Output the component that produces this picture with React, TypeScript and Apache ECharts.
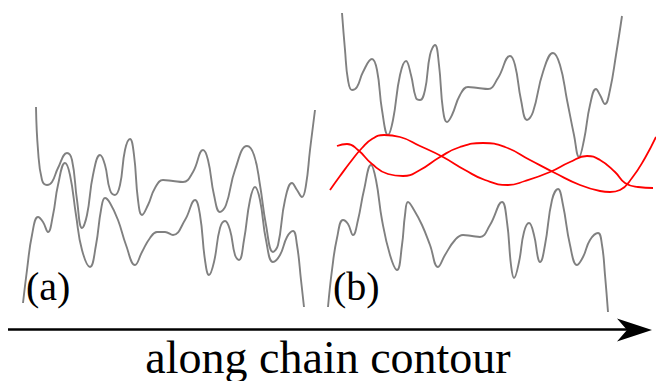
import React, { useEffect, useRef } from "react";
import * as echarts from "echarts";

// Panel (a), upper gray chain: [x, y] in picture units
const chainA1: number[][] = [
  [36, 107], [38, 150], [42, 180], [47, 185], [52, 182], [58, 168], [67, 153], [72, 160], [77, 200], [82, 228],
  [87, 215], [93, 175], [100, 155], [105, 165], [110, 190], [115, 195], [120, 185], [125, 150], [130, 139],
  [134, 155], [138, 200], [142, 215], [148, 205], [155, 188], [163, 180], [173, 181], [183, 182], [193, 172],
  [203, 150], [208, 160], [214, 195], [220, 212], [226, 205], [235, 170], [247, 146], [254, 155], [260, 185],
  [266, 225], [273, 252], [278, 245], [285, 200], [292, 183], [297, 190], [302, 197], [306, 185], [310, 150], [315, 110],
];
// Panel (a), lower gray chain
const chainA2: number[][] = [
  [23, 303], [27, 270], [32, 235], [38, 217], [43, 222], [48, 232], [53, 215], [58, 185], [65, 163], [70, 175],
  [76, 215], [82, 250], [90, 267], [96, 245], [101, 210], [105, 198], [110, 203], [118, 220], [126, 245], [135, 265],
  [142, 252], [150, 238], [157, 232], [165, 232], [173, 235], [185, 220], [195, 200], [200, 215], [205, 260],
  [209, 275], [214, 262], [220, 228], [225, 221], [230, 230], [235, 255], [239, 260], [244, 240], [250, 200],
  [255, 187], [260, 200], [266, 240], [273, 262], [280, 255], [287, 237], [293, 231], [297, 245], [301, 280], [304, 307],
];
// Panel (b), upper gray chain
const chainB1: number[][] = [
  [342, 13], [345, 50], [348, 80], [352, 90], [357, 87], [363, 72], [372, 59], [377, 70], [382, 110], [388, 135],
  [393, 120], [400, 75], [406, 61], [411, 75], [416, 98], [420, 100], [425, 90], [430, 55], [435, 45], [439, 65],
  [443, 110], [447, 122], [452, 115], [460, 95], [468, 87], [478, 88], [488, 89], [498, 78], [510, 56], [515, 65],
  [521, 100], [527, 120], [533, 112], [543, 72], [553, 53], [560, 65], [567, 100], [574, 135], [579, 157],
  [584, 140], [590, 105], [596, 89], [600, 95], [605, 104], [610, 90], [616, 55], [622, 16],
];
// Panel (b), lower gray chain
const chainB2: number[][] = [
  [328, 307], [332, 270], [337, 238], [343, 220], [348, 224], [353, 235], [358, 220], [364, 190], [371, 165],
  [376, 180], [382, 220], [390, 255], [397, 270], [402, 245], [405, 215], [408, 202], [414, 210], [422, 225],
  [430, 245], [438, 267], [445, 255], [455, 240], [463, 235], [472, 236], [480, 237], [490, 225], [502, 202],
  [507, 222], [511, 265], [514, 278], [519, 262], [524, 232], [529, 223], [534, 235], [538, 258], [540, 262],
  [545, 245], [552, 200], [558, 189], [563, 205], [570, 245], [577, 265], [583, 257], [590, 240], [598, 233],
  [602, 245], [605, 275], [608, 312],
];
// Panel (b), red smooth curves
const redA: number[][] = [
  [337, 146], [347, 144], [358, 150], [372, 164], [388, 174], [403, 176], [420, 170], [440, 157], [460, 147],
  [483, 143], [505, 147], [530, 160], [555, 173], [580, 185], [600, 191], [610, 192], [620, 190], [632, 178],
  [645, 158], [656, 137],
];
const redB: number[][] = [
  [330, 190], [340, 176], [352, 160], [362, 148], [372, 139], [384, 135], [400, 137], [420, 146], [443, 157],
  [465, 170], [485, 180], [508, 185], [525, 181], [550, 172], [570, 162], [587, 156], [600, 160], [615, 172],
  [625, 183], [638, 187], [653, 188],
];
// Arrow shaft along the bottom
const arrowShaft: number[][] = [[8, 329.5], [628, 329.5]];

const panelLabels = ["(a)", "(b)"];
const axisLabel = "along chain contour";

export default function App() {
  const ref = useRef<HTMLDivElement>(null);
  useEffect(() => {
    if (!ref.current) return;
    const chart = echarts.init(ref.current, undefined, { renderer: "svg" });
    const gray = (data: number[][]) => ({
      type: "line",
      data,
      smooth: 0.45,
      symbol: "none",
      lineStyle: { color: "#808080", width: 1.9 },
      z: 2,
    });
    const red = (data: number[][]) => ({
      type: "line",
      data,
      smooth: 0.5,
      symbol: "none",
      lineStyle: { color: "#ff0000", width: 1.8 },
      z: 3,
    });
    chart.setOption({
      animation: false,
      backgroundColor: "#ffffff",
      grid: { left: 0, top: 0, right: 0, bottom: 0, containLabel: false },
      xAxis: { type: "value", min: 0, max: 656, show: false },
      yAxis: { type: "value", min: 0, max: 381, inverse: true, show: false },
      series: [
        gray(chainA1),
        gray(chainA2),
        gray(chainB1),
        gray(chainB2),
        red(redA),
        red(redB),
        {
          type: "line",
          data: arrowShaft,
          symbol: "none",
          lineStyle: { color: "#000000", width: 2.4 },
          z: 4,
        },
      ],
      graphic: [
        {
          type: "polygon",
          shape: { points: [[652, 330], [617, 318.5], [627, 330], [617, 341.5]] },
          style: { fill: "#000000" },
          z: 10,
        },
        {
          type: "text",
          x: 26,
          y: 286,
          style: {
            text: panelLabels[0],
            font: "40px 'Liberation Serif'",
            fill: "#000000",
            verticalAlign: "middle",
          },
          z: 10,
        },
        {
          type: "text",
          x: 333,
          y: 286,
          style: {
            text: panelLabels[1],
            font: "40px 'Liberation Serif'",
            fill: "#000000",
            verticalAlign: "middle",
          },
          z: 10,
        },
        {
          type: "text",
          x: 328,
          y: 357,
          style: {
            text: axisLabel,
            font: "46px 'Liberation Serif'",
            fill: "#000000",
            align: "center",
            verticalAlign: "middle",
          },
          z: 10,
        },
      ],
    });
    return () => chart.dispose();
  }, []);
  return (
    <div
      ref={ref}
      style={{ position: "fixed", left: 0, top: 0, width: 656, height: 381, background: "#fff" }}
    />
  );
}
